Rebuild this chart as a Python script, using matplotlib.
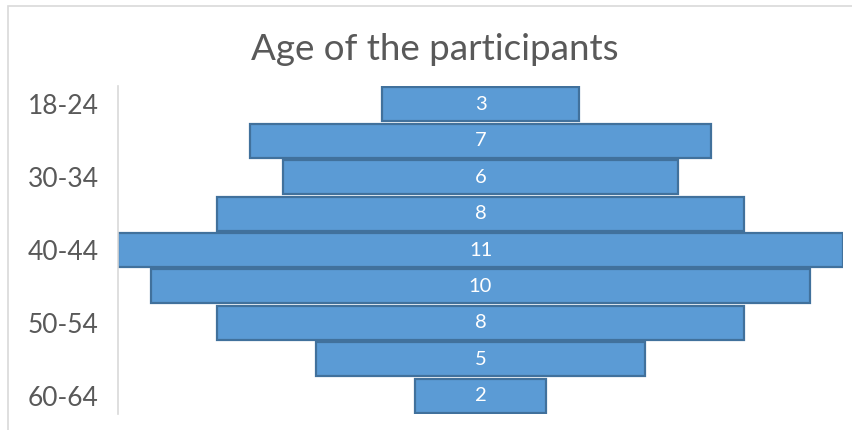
import numpy as np
import matplotlib
matplotlib.use("Agg")
import matplotlib.pyplot as plt
from matplotlib.patches import Rectangle

# data
age_groups = ["18-24", "25-29", "30-34", "35-39", "40-44",
              "45-49", "50-54", "55-59", "60-64"]
participants = [3, 7, 6, 8, 11, 10, 8, 5, 2]

plt.rcParams["font.family"] = ["Lato", "DejaVu Sans"]

W, H = 852, 430
fig = plt.figure(figsize=(W / 100, H / 100), dpi=100)

# chart frame (cut off on right and bottom)
fig.patches.append(Rectangle((8 / W, -0.05), 1.0, (H - 6) / H + 0.05,
                             transform=fig.transFigure, fill=False,
                             edgecolor="#d9d9d9", linewidth=1.2))

ax = fig.add_axes([118 / W, 16 / H, (843 - 118) / W, (414 - 86) / H])

y = np.arange(len(age_groups))
vals = np.array(participants)
ax.barh(y, vals, left=-vals / 2, height=0.93,
        color="#5b9bd5", edgecolor="#41719c", linewidth=1.6)

for yi, v in zip(y, vals):
    ax.text(0, yi, str(v), color="white", fontsize=14.5,
            ha="center", va="center")

ax.set_xlim(-max(vals) / 2, max(vals) / 2)
ax.set_ylim(len(age_groups) - 0.5, -0.5)

ax.set_yticks(y[::2])
ax.set_yticklabels(age_groups[::2], fontsize=19, color="#595959")
ax.tick_params(axis="y", length=0, pad=14)
ax.set_xticks([])

for s in ["top", "right", "bottom"]:
    ax.spines[s].set_visible(False)
ax.spines["left"].set_color("#d9d9d9")
ax.spines["left"].set_linewidth(1.2)

fig.text(435 / W, 1 - 50 / H, "Age of the participants", fontsize=26.5,
         color="#595959", ha="center", va="center")

fig.savefig("out.png", dpi=100)
